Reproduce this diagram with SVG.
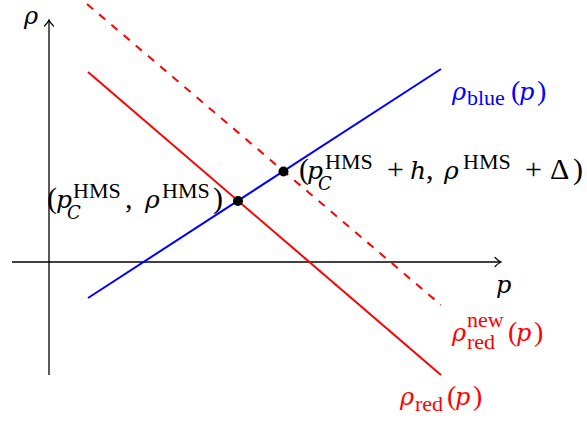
<svg xmlns="http://www.w3.org/2000/svg" width="587" height="423" viewBox="0 0 587 423">
<defs>
<marker id="arr" markerUnits="userSpaceOnUse" markerWidth="14" markerHeight="14" refX="0" refY="0" viewBox="-8 -7 10 14" orient="auto">
<path d="M -6,-4.5 Q -2.5,-1 0,0 Q -2.5,1 -6,4.5" fill="none" stroke="#000" stroke-width="1.2" stroke-linecap="round"/>
</marker>
</defs>
<style>
.t{font-family:"Liberation Serif","DejaVu Serif",serif;}
.i{font-family:"DejaVu Serif",serif;font-style:italic}
.k{fill:#000}
.b{fill:#0000ff}
.r{fill:#ff0000}
.ax{stroke:#000;stroke-width:1.3;fill:none}
.lb{stroke:#0000ff;stroke-width:2;fill:none}
.lr{stroke:#ff0000;stroke-width:2;fill:none}
.dash{stroke-dasharray:8 8}
</style>
<g id="axes">
<line class="ax" x1="12" y1="262" x2="501" y2="262" marker-end="url(#arr)"/>
<line class="ax" x1="49" y1="375" x2="49" y2="20" marker-end="url(#arr)"/>
<text class="i k" x="24" y="24" font-size="24">ρ</text>
<text class="i k" x="496" y="293" font-size="24">p</text>
</g>
<g id="connectors">
<line id="blue-line" class="lb" x1="88" y1="298" x2="441" y2="69"/>
<line id="red-line" class="lr" x1="88" y1="72" x2="441" y2="375"/>
<line id="red-new-line" class="lr dash" x1="87" y1="4" x2="441" y2="305"/>
</g>
<g id="point1">
<circle cx="238" cy="201" r="5" fill="#000"/>
<text class="t k" font-size="30">
<tspan x="47" y="208">(</tspan><tspan class="i" x="56" y="208" font-size="25">p</tspan><tspan x="73" y="198" font-size="22">HMS</tspan><tspan x="125" y="208">,</tspan><tspan class="i" x="145" y="208" font-size="25">ρ</tspan><tspan x="162" y="198" font-size="22">HMS</tspan><tspan x="213" y="208">)</tspan>
</text>
<text class="i k" x="67" y="219" font-size="18">C</text>
</g>
<g id="point2">
<circle cx="283.5" cy="171.5" r="5" fill="#000"/>
<text class="t k" font-size="30">
<tspan x="299" y="179">(</tspan><tspan class="i" x="307" y="179" font-size="25">p</tspan><tspan x="325" y="169" font-size="22">HMS</tspan><tspan x="387" y="179">+</tspan><tspan class="i" x="410" y="179" font-size="25">h</tspan><tspan x="426" y="179">,</tspan><tspan class="i" x="444" y="179" font-size="25">ρ</tspan><tspan x="463" y="169" font-size="22">HMS</tspan><tspan x="525" y="179">+</tspan><tspan x="550" y="179">Δ</tspan><tspan x="573" y="179">)</tspan>
</text>
<text class="i k" x="318" y="190" font-size="18">C</text>
</g>
<g id="label-blue">
<text class="t b" font-size="28">
<tspan class="i" x="452" y="100" font-size="24">ρ</tspan><tspan x="467" y="105" font-size="22">blue</tspan><tspan x="511" y="100">(</tspan><tspan class="i" x="519" y="100" font-size="24">p</tspan><tspan x="537" y="100">)</tspan>
</text>
</g>
<g id="label-red-new">
<text class="t r" font-size="28">
<tspan class="i" x="452" y="341" font-size="24">ρ</tspan><tspan x="467" y="327" font-size="22">new</tspan><tspan x="467" y="349" font-size="22">red</tspan><tspan x="508" y="341">(</tspan><tspan class="i" x="516" y="341" font-size="24">p</tspan><tspan x="534" y="341">)</tspan>
</text>
</g>
<g id="label-red">
<text class="t r" font-size="28">
<tspan class="i" x="400" y="405" font-size="24">ρ</tspan><tspan x="415" y="411" font-size="22">red</tspan><tspan x="447" y="405">(</tspan><tspan class="i" x="455" y="405" font-size="24">p</tspan><tspan x="473" y="405">)</tspan>
</text>
</g>
</svg>
